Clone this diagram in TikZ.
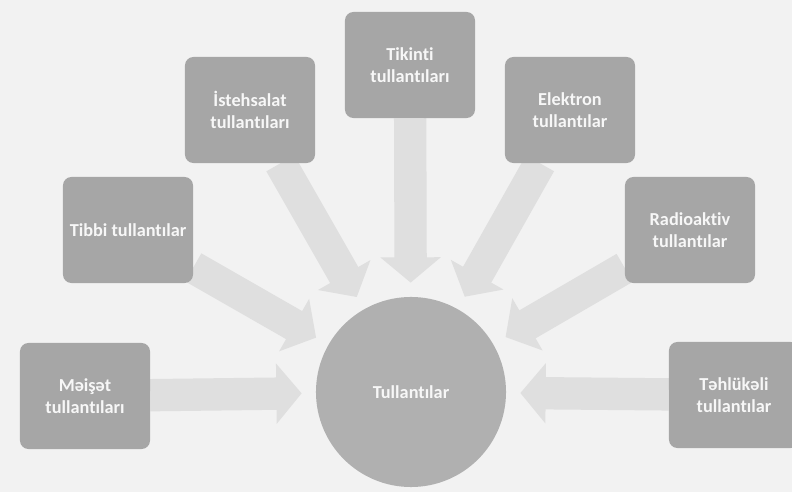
\documentclass[tikz,border=0pt]{standalone}
\usepackage{fontspec}
\setmainfont{Carlito}[Ligatures=NoCommon]
\usepackage{tikz}
\usetikzlibrary{arrows.meta}
\usetikzlibrary{backgrounds}
\definecolor{papier}{gray}{0.95}
\definecolor{boitegris}{gray}{0.65}
\definecolor{bullegris}{gray}{0.69}
\definecolor{flechegris}{gray}{0.875}
\definecolor{textegris}{gray}{0.97}

\tikzset{
    boite/.style={fill=boitegris, rounded corners=6pt, minimum width=3.25cm,
        minimum height=2.65cm, align=center, text=textegris,
        font=\fontsize{13}{15.5}\selectfont\bfseries},
    bulle/.style={circle, fill=bullegris, minimum size=4.75cm, inner sep=0pt,
        text=textegris, font=\fontsize{13}{15.5}\selectfont\bfseries},
    fleche/.style={draw=flechegris, line width=23pt,
        -{Triangle[width=42pt,length=18pt]}, shorten >=10pt}
}

\begin{document}
\begin{tikzpicture}[x=0.025cm, y=-0.025cm]
    \useasboundingbox (0,0) rectangle (792,492);

    % Bulle centrale
    \node[bulle] (tul) at (411,392) {Tullantılar};

    % Boites du haut
    \node[boite] (ist) at (250,110) {İstehsalat\\tullantıları};
    \node[boite] (tik) at (410,65) {Tikinti\\tullantıları};
    \node[boite] (elek) at (570,110) {Elektron\\tullantılar};

    % Boites du milieu
    \node[boite] (tib) at (128,230) {Tibbi tullantılar};
    \node[boite] (rad) at (690,230) {Radioaktiv\\tullantılar};

    % Boites du bas
    \node[boite] (mai) at (85,396) {Məişət\\tullantıları};
    \node[boite] (tah) at (734,395) {Təhlükəli\\tullantılar};

    % Fond et fleches vers la bulle
    \begin{scope}[on background layer]
        \fill[papier] (0,0) rectangle (792,492);
        \draw[fleche] (ist) -- (tul);
        \draw[fleche] (tik) -- (tul);
        \draw[fleche] (elek) -- (tul);
        \draw[fleche] (tib) -- (tul);
        \draw[fleche] (rad) -- (tul);
        \draw[fleche] (mai) -- (tul);
        \draw[fleche] (tah) -- (tul);
    \end{scope}
\end{tikzpicture}
\end{document}
